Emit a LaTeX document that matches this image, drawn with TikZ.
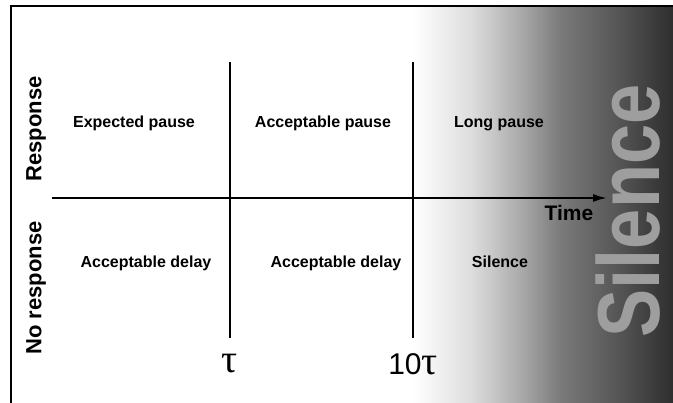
\documentclass[tikz,border=0pt]{standalone}
\usepackage{fontspec}
\setmainfont{Liberation Sans}
\newfontfamily\taufont{Liberation Serif}
\newfontfamily\bigfont[FakeStretch=0.82]{Liberation Sans}
\usetikzlibrary{positioning}
\usetikzlibrary{arrows.meta}
\definecolor{silencegray}{gray}{0.62}
\pgfdeclarehorizontalshading{silencefade}{100bp}{color(0bp)=(white); color(25bp)=(white); color(36bp)=(black!13); color(45.6bp)=(black!33); color(53.3bp)=(black!52); color(64.8bp)=(black!67); color(75bp)=(black!82); color(100bp)=(black!82)}
\tikzset{
  cell/.style={font=\bfseries\fontsize{16}{16}\selectfont, text height=12pt, text depth=3.5pt},
  side/.style={font=\bfseries\fontsize{22}{22}\selectfont, rotate=90},
  tick/.style={font=\fontsize{30}{30}\selectfont, inner sep=0pt},
  rule/.style={line width=2pt}
}
\begin{document}
\begin{tikzpicture}[x=1pt,y=-1pt]
  \useasboundingbox (0,0) rectangle (673,403);
  \shade[shading=silencefade] (413,7) rectangle (673,403);
  \draw[rule] (673,6) -- (11,6) -- (11,403);

  \node(bigsilence) at (628,211)[rotate=90, text=silencegray, inner sep=0pt,
    font=\bigfont\bfseries\fontsize{88}{88}\selectfont]{Silence};

  \coordinate(origin) at (52,198);
  \coordinate(tip) at (607,198);
  \coordinate(t1top) at (230,62);
  \coordinate(t1bot) at (230,338);
  \coordinate(t2top) at (413,62);
  \coordinate(t2bot) at (413,338);

  \draw[rule, -{Latex[length=14pt,width=8pt]}](origin)--(tip);
  \draw[rule](t1top)--(t1bot);
  \draw[rule](t2top)--(t2bot);

  \node(tau1)[tick] at (230,364){\taufont\fontsize{40}{40}\selectfont τ};
  \node(tau10)[tick] at (413,364){10\taufont\fontsize{40}{40}\selectfont τ};

  \node(time)[font=\bfseries\fontsize{21}{21}\selectfont] at (569,213){Time};

  \node(resp)[side] at (36,129){Response};
  \node(noresp)[side] at (36,288){No response};

  \node(expected)[cell] at (134,123){Expected pause};
  \node(accpause)[cell] at (323,123){Acceptable pause};
  \node(longpause)[cell] at (499,123){Long pause};
  \node(delay1)[cell] at (146,263){Acceptable delay};
  \node(delay2)[cell] at (336,263){Acceptable delay};
  \node(silence)[cell] at (500,263){Silence};
\end{tikzpicture}
\end{document}
